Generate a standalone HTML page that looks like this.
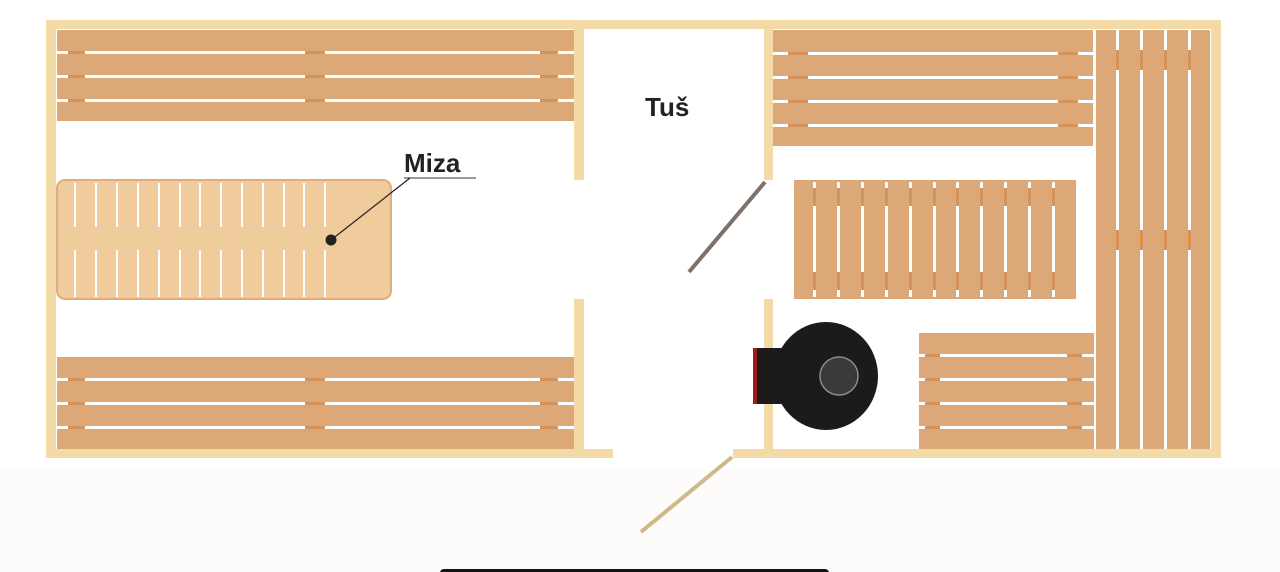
<!DOCTYPE html>
<html><head><meta charset="utf-8"><style>
html,body{margin:0;padding:0;background:#fff;width:1280px;height:572px;overflow:hidden}
svg{display:block}
text{font-family:"Liberation Sans","DejaVu Sans",sans-serif;font-weight:bold;fill:#222}
</style></head><body>
<svg width="1280" height="572" viewBox="0 0 1280 572" xmlns="http://www.w3.org/2000/svg">
<rect x="0" y="0" width="1280" height="572" fill="#fff"/>
<rect x="0" y="470" width="1280" height="102" fill="#fdfcfa"/>
<!-- walls -->
<g fill="#f3dba8">
<rect x="46" y="20" width="1175" height="9"/>
<rect x="46" y="20" width="10" height="438"/>
<rect x="1211" y="20" width="10" height="438"/>
<rect x="46" y="449" width="567" height="9"/>
<rect x="733" y="449" width="488" height="9"/>
<rect x="574" y="28" width="10" height="152"/>
<rect x="574" y="299" width="10" height="150"/>
<rect x="764" y="28" width="9" height="152"/>
<rect x="764" y="299" width="9" height="150"/>
</g>
<!-- top-left bench -->
<rect x="57" y="30" width="517" height="91" fill="#dca877"/>
<g fill="#fff"><rect x="57" y="51" width="517" height="3"/><rect x="57" y="75" width="517" height="3"/><rect x="57" y="99" width="517" height="3"/></g>
<g fill="#d4935a"><rect x="68" y="51" width="17" height="3"/><rect x="68" y="75" width="17" height="3"/><rect x="68" y="99" width="17" height="3"/>
<rect x="305" y="51" width="20" height="3"/><rect x="305" y="75" width="20" height="3"/><rect x="305" y="99" width="20" height="3"/>
<rect x="540" y="51" width="18" height="3"/><rect x="540" y="75" width="18" height="3"/><rect x="540" y="99" width="18" height="3"/></g>
<!-- bottom-left bench -->
<rect x="57" y="357" width="517" height="92" fill="#dca877"/>
<g fill="#fff"><rect x="57" y="378" width="517" height="3"/><rect x="57" y="402" width="517" height="3"/><rect x="57" y="426" width="517" height="3"/></g>
<g fill="#d4935a"><rect x="68" y="378" width="17" height="3"/><rect x="68" y="402" width="17" height="3"/><rect x="68" y="426" width="17" height="3"/>
<rect x="305" y="378" width="20" height="3"/><rect x="305" y="402" width="20" height="3"/><rect x="305" y="426" width="20" height="3"/>
<rect x="540" y="378" width="18" height="3"/><rect x="540" y="402" width="18" height="3"/><rect x="540" y="426" width="18" height="3"/></g>
<!-- miza -->
<rect x="57" y="180" width="334" height="119" rx="8" fill="#f0cb9c" stroke="#dcae80" stroke-width="2"/>
<g fill="#fff">
<rect x="74" y="183" width="2" height="44"/><rect x="95" y="183" width="2" height="44"/><rect x="116" y="183" width="2" height="44"/><rect x="137" y="183" width="2" height="44"/><rect x="158" y="183" width="2" height="44"/><rect x="179" y="183" width="2" height="44"/><rect x="199" y="183" width="2" height="44"/><rect x="220" y="183" width="2" height="44"/><rect x="241" y="183" width="2" height="44"/><rect x="262" y="183" width="2" height="44"/><rect x="283" y="183" width="2" height="44"/><rect x="303" y="183" width="2" height="44"/><rect x="324" y="183" width="2" height="44"/>
<rect x="74" y="250" width="2" height="47"/><rect x="95" y="250" width="2" height="47"/><rect x="116" y="250" width="2" height="47"/><rect x="137" y="250" width="2" height="47"/><rect x="158" y="250" width="2" height="47"/><rect x="179" y="250" width="2" height="47"/><rect x="199" y="250" width="2" height="47"/><rect x="220" y="250" width="2" height="47"/><rect x="241" y="250" width="2" height="47"/><rect x="262" y="250" width="2" height="47"/><rect x="283" y="250" width="2" height="47"/><rect x="303" y="250" width="2" height="47"/><rect x="324" y="250" width="2" height="47"/>
</g>
<!-- miza label -->
<text x="404" y="172" font-size="26">Miza</text>
<line x1="404" y1="178" x2="476" y2="178" stroke="#333" stroke-width="1"/>
<line x1="410" y1="178" x2="331" y2="240" stroke="#222" stroke-width="1.2"/>
<circle cx="331" cy="240" r="5.5" fill="#222"/>
<text x="645" y="116" font-size="26">Tuš</text>
<!-- top-right bench -->
<rect x="773" y="30" width="320" height="116" fill="#dca877"/>
<g fill="#fff"><rect x="773" y="52" width="320" height="3"/><rect x="773" y="76" width="320" height="3"/><rect x="773" y="100" width="320" height="3"/><rect x="773" y="124" width="320" height="3"/></g>
<g fill="#d4935a"><rect x="788" y="52" width="20" height="3"/><rect x="788" y="76" width="20" height="3"/><rect x="788" y="100" width="20" height="3"/><rect x="788" y="124" width="20" height="3"/>
<rect x="1058" y="52" width="20" height="3"/><rect x="1058" y="76" width="20" height="3"/><rect x="1058" y="100" width="20" height="3"/><rect x="1058" y="124" width="20" height="3"/></g>
<!-- middle bench -->
<rect x="794" y="180" width="282" height="119" fill="#dca877"/>
<g fill="#fff">
<rect x="813" y="182" width="3" height="115"/><rect x="837" y="182" width="3" height="115"/><rect x="861" y="182" width="3" height="115"/><rect x="885" y="182" width="3" height="115"/><rect x="909" y="182" width="3" height="115"/><rect x="933" y="182" width="3" height="115"/><rect x="956" y="182" width="3" height="115"/><rect x="980" y="182" width="3" height="115"/><rect x="1004" y="182" width="3" height="115"/><rect x="1028" y="182" width="3" height="115"/><rect x="1052" y="182" width="3" height="115"/>
</g>
<g fill="#d4935a">
<rect x="813" y="188" width="3" height="18"/><rect x="837" y="188" width="3" height="18"/><rect x="861" y="188" width="3" height="18"/><rect x="885" y="188" width="3" height="18"/><rect x="909" y="188" width="3" height="18"/><rect x="933" y="188" width="3" height="18"/><rect x="956" y="188" width="3" height="18"/><rect x="980" y="188" width="3" height="18"/><rect x="1004" y="188" width="3" height="18"/><rect x="1028" y="188" width="3" height="18"/><rect x="1052" y="188" width="3" height="18"/>
<rect x="813" y="272" width="3" height="18"/><rect x="837" y="272" width="3" height="18"/><rect x="861" y="272" width="3" height="18"/><rect x="885" y="272" width="3" height="18"/><rect x="909" y="272" width="3" height="18"/><rect x="933" y="272" width="3" height="18"/><rect x="956" y="272" width="3" height="18"/><rect x="980" y="272" width="3" height="18"/><rect x="1004" y="272" width="3" height="18"/><rect x="1028" y="272" width="3" height="18"/><rect x="1052" y="272" width="3" height="18"/>
</g>
<!-- right vertical bench -->
<rect x="1096" y="30" width="114" height="419" fill="#dca877"/>
<g fill="#fff"><rect x="1116" y="30" width="3" height="419"/><rect x="1140" y="30" width="3" height="419"/><rect x="1164" y="30" width="3" height="419"/><rect x="1188" y="30" width="3" height="419"/></g>
<g fill="#d4935a"><rect x="1116" y="50" width="3" height="20"/><rect x="1140" y="50" width="3" height="20"/><rect x="1164" y="50" width="3" height="20"/><rect x="1188" y="50" width="3" height="20"/>
<rect x="1116" y="230" width="3" height="20"/><rect x="1140" y="230" width="3" height="20"/><rect x="1164" y="230" width="3" height="20"/><rect x="1188" y="230" width="3" height="20"/></g>
<!-- bottom-right bench -->
<rect x="919" y="333" width="175" height="116" fill="#dca877"/>
<g fill="#fff"><rect x="919" y="354" width="175" height="3"/><rect x="919" y="378" width="175" height="3"/><rect x="919" y="402" width="175" height="3"/><rect x="919" y="426" width="175" height="3"/></g>
<g fill="#d4935a"><rect x="925" y="354" width="15" height="3"/><rect x="925" y="378" width="15" height="3"/><rect x="925" y="402" width="15" height="3"/><rect x="925" y="426" width="15" height="3"/>
<rect x="1067" y="354" width="15" height="3"/><rect x="1067" y="378" width="15" height="3"/><rect x="1067" y="402" width="15" height="3"/><rect x="1067" y="426" width="15" height="3"/></g>
<!-- stove -->
<rect x="753" y="348" width="30" height="56" fill="#1b1b1b"/>
<rect x="753" y="348" width="4" height="56" fill="#a31a1a"/>
<ellipse cx="826" cy="376" rx="52" ry="54" fill="#1b1b1b"/>
<circle cx="839" cy="376" r="19" fill="#3a3a3a" stroke="#8a8a8a" stroke-width="1.5"/>
<!-- doors -->
<line x1="765" y1="182" x2="689" y2="272" stroke="#7d716a" stroke-width="4"/>
<line x1="732" y1="457" x2="641" y2="532" stroke="#cdb98a" stroke-width="4"/>
<rect x="440" y="569" width="389" height="8" rx="4" fill="#111"/>
</svg>
</body></html>
